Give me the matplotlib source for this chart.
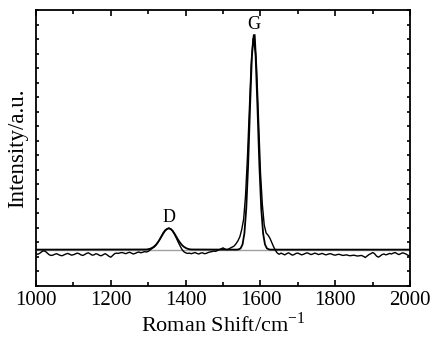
import numpy as np
import matplotlib.pyplot as plt
from matplotlib.ticker import MultipleLocator

plt.rcParams['font.family'] = ['Liberation Serif', 'DejaVu Serif']

# Measured Raman spectrum, sampled every 5 cm^-1 from 1000 to 2000
shift = np.arange(1000, 2005, 5)
intensity = [
    222, 218, 225, 235, 242, 238, 226, 215, 210, 212, 218, 222, 216, 210, 208, 214, 220, 224, 218, 212, 215,
    220, 226, 222, 214, 210, 216, 224, 228, 220, 212, 214, 222, 218, 210, 208, 216, 222, 214, 204, 198,
    210, 222, 226, 224, 228, 230, 226, 222, 228, 232, 226, 220, 224, 230, 234, 228, 232, 236, 234, 238,
    248, 258, 266, 278, 296, 318, 342, 366, 384, 392, 398, 392, 378, 356, 330, 302, 276, 252, 236, 228,
    224, 226, 222, 226, 230, 224, 220, 226, 228, 222, 224, 230, 234, 236, 240, 238, 244, 250, 256, 262,
    254, 250, 254, 262, 268, 276, 292, 312, 340, 390, 460, 620, 880, 1200, 1520, 1700, 1730, 1480, 1120, 780,
    560, 420, 365, 350, 330, 300, 270, 245, 226, 218,
    226, 220, 214, 222, 228, 220, 212, 216, 224, 226, 220, 214, 218, 224, 228, 222, 216, 220, 226, 222,
    216, 220, 224, 218, 214, 218, 222, 220, 214, 212, 216, 218, 214, 210, 212, 214, 210, 208, 210, 212,
    208, 206, 208, 210, 204, 196, 206, 216, 222, 230, 222, 206, 198, 206, 216, 220, 214, 218, 224, 220,
    226, 230, 222, 216, 222, 228, 224, 218, 210, 204,
]

# Fitted curve (baseline + D and G bands)
fit_x = [1000, 1295, 1300, 1305, 1310, 1315, 1320, 1325, 1330, 1335, 1340, 1345, 1350, 1355,
         1360, 1365, 1370, 1375, 1380, 1385, 1390, 1395, 1400, 1405, 1410, 1415,
         1532, 1537, 1542, 1547, 1552, 1557, 1562, 1567, 1572, 1577, 1582,
         1587, 1592, 1597, 1602, 1607, 1612, 1617, 1622, 1627, 1632, 2000]
fit_y = [250, 251, 253, 256, 262, 270, 282, 298, 317, 339, 361, 380, 392, 397,
         392, 380, 361, 339, 317, 298, 282, 270, 262, 256, 253, 251,
         250, 250, 252, 259, 286, 362, 534, 834, 1227, 1583, 1728,
         1583, 1227, 834, 534, 362, 286, 259, 252, 250, 250, 250]

# Baseline
base_x = [1000, 2000]
base_y = [250, 250]

fig = plt.figure(figsize=(4.34, 3.47), dpi=100)
ax = fig.add_axes([0.083, 0.176, 0.862, 0.795])

ax.plot(base_x, base_y, color='#a0a0a0', lw=1.0)
ax.plot(fit_x, fit_y, color='black', lw=1.3)
ax.plot(shift, intensity, color='black', lw=1.0)

ax.text(1355, 415, 'D', fontsize=13, ha='center', va='bottom')
ax.text(1582, 1745, 'G', fontsize=13, ha='center', va='bottom')

ax.set_xlim(1000, 2000)
ax.set_ylim(0, 1900)
ax.xaxis.set_major_locator(MultipleLocator(200))
ax.xaxis.set_minor_locator(MultipleLocator(100))
ax.yaxis.set_major_locator(MultipleLocator(100))
ax.set_yticklabels([])
ax.tick_params(which='both', direction='in', top=True, right=True, width=1.2)
ax.tick_params(which='major', length=4, labelsize=15, pad=4)
ax.tick_params(which='minor', length=3)
ax.tick_params(axis='y', length=2.5)
for s in ax.spines.values():
    s.set_linewidth(1.3)

ax.set_xlabel('Roman Shift/cm$^{\\mathregular{-1}}$', fontsize=16, labelpad=1)
ax.set_ylabel('Intensity/a.u.', fontsize=16.5, labelpad=1.5)

plt.savefig('out.png', dpi=100)
